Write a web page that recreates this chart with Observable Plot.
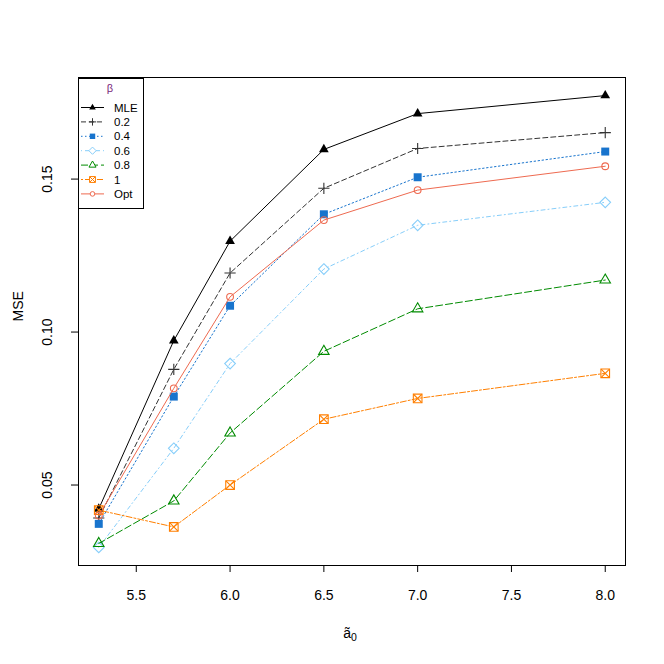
<!DOCTYPE html>
<html><head><meta charset="utf-8">
<script src="https://cdn.jsdelivr.net/npm/d3@7"></script>
<script src="https://cdn.jsdelivr.net/npm/@observablehq/plot@0.6"></script>
<style>
body{margin:0;background:#fff;}
#chart{width:664px;height:664px;}
</style>
</head><body><div id="chart"></div>
<script>
// ---- data ----
const a0 = [5.3, 5.7, 6.0, 6.5, 7.0, 8.0];
const seriesNames = ["MLE", "0.2", "0.4", "0.6", "0.8", "1", "Opt"];
const mseMLE = [0.0422, 0.0972, 0.1297, 0.1597, 0.1714, 0.1773];
const mse02  = [0.0392, 0.0878, 0.1193, 0.1470, 0.1600, 0.1652];
const mse04  = [0.0373, 0.0789, 0.1086, 0.1385, 0.1506, 0.1590];
const mse06  = [0.0296, 0.0620, 0.0897, 0.1206, 0.1349, 0.1424];
const mse08  = [0.0309, 0.0448, 0.0670, 0.0937, 0.1076, 0.1170];
const mse1   = [0.0418, 0.0363, 0.0500, 0.0715, 0.0783, 0.0865];
const mseOpt = [0.0400, 0.0816, 0.1115, 0.1366, 0.1464, 0.1542];
const xTicks = [5.5, 6.0, 6.5, 7.0, 7.5, 8.0];
const yTicks = [0.05, 0.10, 0.15];
const legendTitle = "β";
const yLabel = "MSE";

// ---- styles (separate from data) ----
const values = [mseMLE, mse02, mse04, mse06, mse08, mse1, mseOpt];
const styles = [
  {color: "#000000", dash: null,        syms: [{s: "triangle",  r: 3.6, fill: true}]},
  {color: "#333333", dash: "5,3",       syms: [{s: "plus",      r: 3.7}]},
  {color: "#1874CD", dash: "1.5,2.5",   syms: [{s: "square",    r: 4.5, fill: true}]},
  {color: "#87CEFA", dash: "1,3,4,3",   syms: [{s: "diamond2",  r: 4.8}]},
  {color: "#008B00", dash: "7,3",       syms: [{s: "triangle2", r: 5.0}]},
  {color: "#FF7F00", dash: "2,2,6,2",   syms: [{s: "square2",   r: 5.5}, {s: "times", r: 3.9}]},
  {color: "#EE6A50", dash: null,        syms: [{s: "circle",    r: 3.4}]}
];
const d3sym = {triangle: d3.symbolTriangle, plus: d3.symbolPlus, square: d3.symbolSquare,
  diamond2: d3.symbolDiamond2, triangle2: d3.symbolTriangle2, square2: d3.symbolSquare2,
  times: d3.symbolTimes, circle: d3.symbolCircle};
const FONT = "'Liberation Sans', Arial, sans-serif";

const pad = ([a, b]) => { const p = (b - a) * 0.04; return [a - p, b + p]; };
const xDomain = pad(d3.extent(a0));
const yDomain = pad(d3.extent(values.flat()));

const marks = [];
values.forEach((vals, i) => {
  const st = styles[i];
  const rows = a0.map((x, j) => ({x, y: vals[j], series: seriesNames[i]}));
  marks.push(Plot.line(rows, {x: "x", y: "y", stroke: st.color, strokeWidth: 1,
    strokeDasharray: st.dash || undefined}));
  st.syms.forEach(sy => {
    marks.push(Plot.dot(rows, {x: "x", y: "y", symbol: sy.s, r: sy.r,
      fill: sy.fill ? st.color : "none", stroke: st.color, strokeWidth: sy.fill ? 0 : 1.1}));
  });
});

const svg = Plot.plot({
  width: 664, height: 664,
  marginLeft: 78, marginRight: 39, marginTop: 77, marginBottom: 99,
  style: {fontFamily: FONT, background: "#fff", color: "#000"},
  x: {domain: xDomain},
  y: {domain: yDomain},
  marks: [
    Plot.axisX({ticks: xTicks, tickFormat: d => d.toFixed(1), tickSize: 7, tickPadding: 18, fontSize: 14, label: null}),
    Plot.axisY({ticks: yTicks, tickFormat: d => d.toFixed(2), tickSize: 7, tickPadding: 20, tickRotate: -90, fontSize: 14, label: null}),
    Plot.text([yLabel], {frameAnchor: "left", dx: -60, rotate: -90, fontSize: 14, text: d => d}),
    ...marks,
    Plot.frame({stroke: "#000", strokeWidth: 1})
  ]
});
document.getElementById("chart").appendChild(svg);

// ---- x label with subscript ----
const S = d3.select(svg);
const xl = S.append("text").attr("x", 350).attr("y", 638).attr("text-anchor", "middle")
  .attr("font-size", 14).attr("font-family", FONT).attr("fill", "#000");
xl.append("tspan").text("ã");
xl.append("tspan").attr("dy", 3).attr("font-size", 10.5).text("0");

// ---- legend ----
const lg = S.append("g").attr("font-family", FONT).attr("text-anchor", "start");
lg.append("rect").attr("x", 78.5).attr("y", 78.5).attr("width", 65).attr("height", 130)
  .attr("fill", "#fff").attr("stroke", "#000");
lg.append("text").attr("x", 110).attr("y", 88).attr("dy", "0.35em").attr("text-anchor", "middle")
  .attr("font-size", 11).attr("fill", "#7A1E7A").text(legendTitle);
seriesNames.forEach((name, i) => {
  const st = styles[i];
  const y = 107.5 + i * 14.4;
  lg.append("line").attr("x1", 81).attr("x2", 104).attr("y1", y).attr("y2", y)
    .attr("stroke", st.color).attr("stroke-dasharray", st.dash);
  st.syms.forEach(sy => {
    const r = sy.r * 0.68;
    lg.append("path").attr("transform", `translate(92.5,${y})`)
      .attr("d", d3.symbol(d3sym[sy.s], Math.PI * r * r)())
      .attr("fill", sy.fill ? st.color : "#fff").attr("stroke", sy.fill ? "none" : st.color).attr("stroke-width", 1);
  });
  lg.append("text").attr("x", 114).attr("y", y).attr("dy", "0.35em").attr("text-anchor", "start")
    .attr("font-size", 11.5).attr("fill", "#000").text(name);
});
</script>
</body></html>
